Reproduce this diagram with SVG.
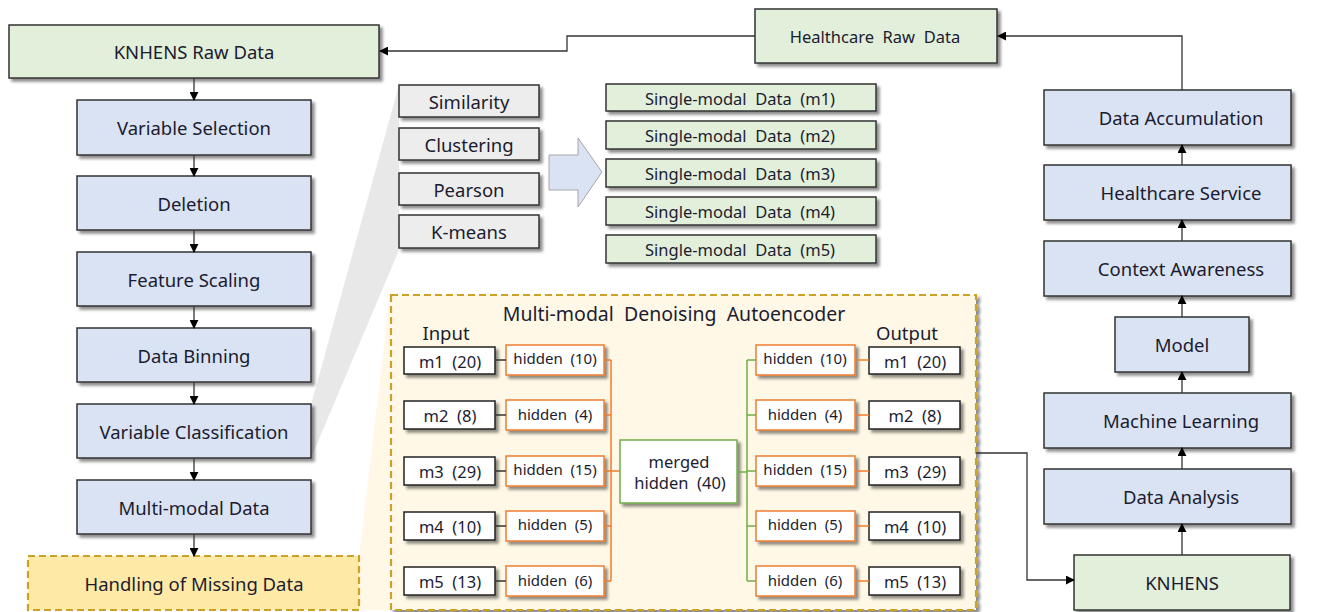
<svg xmlns="http://www.w3.org/2000/svg" width="1329" height="612" viewBox="0 0 1329 612">
  <defs>
    <filter id="shadow" x="-10%" y="-20%" width="130%" height="160%">
      <feGaussianBlur in="SourceAlpha" stdDeviation="1.5"/>
      <feOffset dx="2.5" dy="2.5" result="b"/>
      <feComponentTransfer><feFuncA type="linear" slope="0.45"/></feComponentTransfer>
      <feMerge><feMergeNode/><feMergeNode in="SourceGraphic"/></feMerge>
    </filter>
    <marker id="arr" viewBox="0 0 10 10" refX="9" refY="5" markerWidth="9" markerHeight="9" markerUnits="userSpaceOnUse" orient="auto">
      <path d="M0,0 L10,5 L0,10 z" fill="#000"/>
    </marker>
    <style>
      text { font-family: "Noto Sans", "Open Sans", sans-serif; fill: #1c1c30; text-anchor: middle; dominant-baseline: central; }
      .main { font-size: 18.5px; }
      .sm { font-size: 16.5px; }
      .xs { font-size: 15px; }
      .lbl { font-size: 18.5px; }
      .title { font-size: 19.5px; }
      .blue { fill: #DAE3F3; stroke: #333; stroke-width: 1.5; filter: url(#shadow); }
      .green { fill: #E2EFDA; stroke: #333; stroke-width: 1.5; filter: url(#shadow); }
      .grey { fill: #EDEDED; stroke: #333; stroke-width: 1.5; filter: url(#shadow); }
      .white { fill: #fff; stroke: #222; stroke-width: 1.5; filter: url(#shadow); }
      .orange { fill: #fff; stroke: #ED7D31; stroke-width: 1.5; filter: url(#shadow); }
      .merged { fill: #fff; stroke: #70AD47; stroke-width: 1.5; filter: url(#shadow); }
      .missing { fill: #FFE9A6; stroke: #C9A227; stroke-width: 2.2; stroke-dasharray: 7 4; }
      .dae { fill: #FFF8E6; stroke: #C9A227; stroke-width: 2.2; stroke-dasharray: 7 4; filter: url(#shadow); }
      .edge { fill: none; stroke: #333; stroke-width: 1.3; }
      .oedge { fill: none; stroke: #ED7D31; stroke-width: 1.5; }
      .gedge { fill: none; stroke: #70AD47; stroke-width: 1.5; }
    </style>
  </defs>

  <!-- callout wedges behind the boxes -->
  <polygon points="311,405 399,85 399,250 311,458" fill="#E8E8E8"/>
  <polygon points="359,557 390,295 390,610 359,610" fill="#FFF8E6"/>

  <!-- left pipeline -->
  <g id="knhens-raw"><rect class="green" x="9" y="25" width="370" height="53"/><text class="main" x="194" y="51">KNHENS Raw Data</text></g>
  <g id="variable-selection"><rect class="blue" x="77" y="100" width="234" height="55"/><text class="main" x="194" y="127">Variable Selection</text></g>
  <g id="deletion"><rect class="blue" x="77" y="176" width="234" height="54"/><text class="main" x="194" y="203">Deletion</text></g>
  <g id="feature-scaling"><rect class="blue" x="77" y="252" width="234" height="54"/><text class="main" x="194" y="279">Feature Scaling</text></g>
  <g id="data-binning"><rect class="blue" x="77" y="328" width="234" height="54"/><text class="main" x="194" y="355">Data Binning</text></g>
  <g id="variable-classification"><rect class="blue" x="77" y="404" width="234" height="54"/><text class="main" x="194" y="431">Variable Classification</text></g>
  <g id="multimodal-data"><rect class="blue" x="77" y="480" width="234" height="54"/><text class="main" x="194" y="507">Multi-modal Data</text></g>
  <g id="missing-data"><rect class="missing" x="28" y="556" width="331" height="54"/><text class="main" x="194" y="583">Handling of Missing Data</text></g>

  <!-- classification methods -->
  <g id="similarity"><rect class="grey" x="399" y="85" width="140" height="32"/><text class="main" x="469" y="101">Similarity</text></g>
  <g id="clustering"><rect class="grey" x="399" y="128" width="140" height="32"/><text class="main" x="469" y="144">Clustering</text></g>
  <g id="pearson"><rect class="grey" x="399" y="173" width="140" height="32"/><text class="main" x="469" y="189">Pearson</text></g>
  <g id="kmeans"><rect class="grey" x="399" y="215" width="140" height="33"/><text class="main" x="469" y="231">K-means</text></g>

  <!-- block arrow -->
  <g id="block-arrow"><polygon points="549,155 578,155 578,138 602,172 578,207 578,190 549,190" fill="#DAE3F3" stroke="#A6A6A6" stroke-width="1"/></g>

  <!-- single-modal data -->
  <g id="single-m1"><rect class="green" x="606" y="84" width="270" height="27"/><text class="sm" x="740" y="98" xml:space="preserve">Single-modal  Data  (m1)</text></g>
  <g id="single-m2"><rect class="green" x="606" y="121" width="270" height="28"/><text class="sm" x="740" y="135" xml:space="preserve">Single-modal  Data  (m2)</text></g>
  <g id="single-m3"><rect class="green" x="606" y="159" width="270" height="28"/><text class="sm" x="740" y="173" xml:space="preserve">Single-modal  Data  (m3)</text></g>
  <g id="single-m4"><rect class="green" x="606" y="197" width="270" height="28"/><text class="sm" x="740" y="211" xml:space="preserve">Single-modal  Data  (m4)</text></g>
  <g id="single-m5"><rect class="green" x="606" y="235" width="270" height="28"/><text class="sm" x="740" y="249" xml:space="preserve">Single-modal  Data  (m5)</text></g>

  <!-- healthcare raw data -->
  <g id="healthcare-raw"><rect class="green" x="755" y="9" width="242" height="54"/><text class="sm" x="875" y="36" xml:space="preserve">Healthcare  Raw  Data</text></g>

  <!-- autoencoder -->
  <g id="autoencoder">
    <rect class="dae" x="391" y="295" width="585" height="315"/>
    <text class="title" x="674" y="313" xml:space="preserve">Multi-modal  Denoising  Autoencoder</text>
    <text class="lbl" x="446" y="332">Input</text>
    <text class="lbl" x="907" y="332">Output</text>
  </g>
  <g id="in-m1"><rect class="white" x="404" y="347" width="91" height="27"/><text class="sm" x="450" y="361" xml:space="preserve">m1  (20)</text></g>
  <g id="in-m2"><rect class="white" x="404" y="401" width="91" height="28"/><text class="sm" x="450" y="415" xml:space="preserve">m2  (8)</text></g>
  <g id="in-m3"><rect class="white" x="404" y="457" width="91" height="28"/><text class="sm" x="450" y="471" xml:space="preserve">m3  (29)</text></g>
  <g id="in-m4"><rect class="white" x="404" y="512" width="91" height="28"/><text class="sm" x="450" y="526" xml:space="preserve">m4  (10)</text></g>
  <g id="in-m5"><rect class="white" x="404" y="567" width="91" height="28"/><text class="sm" x="450" y="581" xml:space="preserve">m5  (13)</text></g>

  <g id="enc-h1"><rect class="orange" x="506" y="345" width="98" height="30"/><text class="xs" x="555" y="358" xml:space="preserve">hidden  (10)</text></g>
  <g id="enc-h2"><rect class="orange" x="506" y="400" width="98" height="30"/><text class="xs" x="555" y="414" xml:space="preserve">hidden  (4)</text></g>
  <g id="enc-h3"><rect class="orange" x="506" y="456" width="98" height="30"/><text class="xs" x="555" y="469" xml:space="preserve">hidden  (15)</text></g>
  <g id="enc-h4"><rect class="orange" x="506" y="511" width="98" height="30"/><text class="xs" x="555" y="524" xml:space="preserve">hidden  (5)</text></g>
  <g id="enc-h5"><rect class="orange" x="506" y="566" width="98" height="30"/><text class="xs" x="555" y="580" xml:space="preserve">hidden  (6)</text></g>

  <g id="merged"><rect class="merged" x="620" y="440" width="117" height="63"/><text class="sm" x="679" y="461">merged</text><text class="sm" x="680" y="482" xml:space="preserve">hidden  (40)</text></g>

  <g id="dec-h1"><rect class="orange" x="756" y="345" width="99" height="30"/><text class="xs" x="805" y="358" xml:space="preserve">hidden  (10)</text></g>
  <g id="dec-h2"><rect class="orange" x="756" y="400" width="99" height="30"/><text class="xs" x="805" y="414" xml:space="preserve">hidden  (4)</text></g>
  <g id="dec-h3"><rect class="orange" x="756" y="456" width="99" height="30"/><text class="xs" x="805" y="469" xml:space="preserve">hidden  (15)</text></g>
  <g id="dec-h4"><rect class="orange" x="756" y="511" width="99" height="30"/><text class="xs" x="805" y="524" xml:space="preserve">hidden  (5)</text></g>
  <g id="dec-h5"><rect class="orange" x="756" y="566" width="99" height="30"/><text class="xs" x="805" y="580" xml:space="preserve">hidden  (6)</text></g>

  <g id="out-m1"><rect class="white" x="869" y="347" width="91" height="27"/><text class="sm" x="915" y="361" xml:space="preserve">m1  (20)</text></g>
  <g id="out-m2"><rect class="white" x="869" y="401" width="91" height="28"/><text class="sm" x="915" y="415" xml:space="preserve">m2  (8)</text></g>
  <g id="out-m3"><rect class="white" x="869" y="457" width="91" height="28"/><text class="sm" x="915" y="471" xml:space="preserve">m3  (29)</text></g>
  <g id="out-m4"><rect class="white" x="869" y="512" width="91" height="28"/><text class="sm" x="915" y="526" xml:space="preserve">m4  (10)</text></g>
  <g id="out-m5"><rect class="white" x="869" y="567" width="91" height="28"/><text class="sm" x="915" y="581" xml:space="preserve">m5  (13)</text></g>

  <!-- right pipeline -->
  <g id="data-accumulation"><rect class="blue" x="1044" y="90" width="247" height="55"/><text class="main" x="1181" y="117">Data Accumulation</text></g>
  <g id="healthcare-service"><rect class="blue" x="1044" y="165" width="247" height="55"/><text class="main" x="1181" y="192">Healthcare Service</text></g>
  <g id="context-awareness"><rect class="blue" x="1044" y="241" width="247" height="55"/><text class="main" x="1181" y="268">Context Awareness</text></g>
  <g id="model"><rect class="blue" x="1115" y="317" width="134" height="55"/><text class="main" x="1182" y="344">Model</text></g>
  <g id="machine-learning"><rect class="blue" x="1044" y="393" width="247" height="55"/><text class="main" x="1181" y="420">Machine Learning</text></g>
  <g id="data-analysis"><rect class="blue" x="1044" y="469" width="247" height="55"/><text class="main" x="1181" y="496">Data Analysis</text></g>
  <g id="knhens"><rect class="green" x="1074" y="555" width="216" height="55"/><text class="main" x="1182" y="582">KNHENS</text></g>

  <!-- connectors -->
  <g id="connectors">
    <path class="edge" marker-end="url(#arr)" d="M194,78 V100"/>
    <path class="edge" marker-end="url(#arr)" d="M194,155 V176"/>
    <path class="edge" marker-end="url(#arr)" d="M194,230 V252"/>
    <path class="edge" marker-end="url(#arr)" d="M194,306 V328"/>
    <path class="edge" marker-end="url(#arr)" d="M194,382 V404"/>
    <path class="edge" marker-end="url(#arr)" d="M194,458 V480"/>
    <path class="edge" marker-end="url(#arr)" d="M194,534 V556"/>

    <path class="edge" marker-end="url(#arr)" d="M755,36 H567 V51 H380"/>
    <path class="edge" marker-end="url(#arr)" d="M1182,90 V36 H998"/>

    <path class="edge" marker-end="url(#arr)" d="M1182,165 V145"/>
    <path class="edge" marker-end="url(#arr)" d="M1182,241 V220"/>
    <path class="edge" marker-end="url(#arr)" d="M1182,317 V296"/>
    <path class="edge" marker-end="url(#arr)" d="M1182,393 V372"/>
    <path class="edge" marker-end="url(#arr)" d="M1182,469 V448"/>
    <path class="edge" marker-end="url(#arr)" d="M1182,555 V524"/>

    <path class="edge" marker-end="url(#arr)" d="M976,453 H1027 V580 H1074"/>

    <!-- input to encoder hidden -->
    <path class="edge" d="M495,360 H506 M495,415 H506 M495,471 H506 M495,526 H506 M495,581 H506"/>
    <!-- encoder bus -->
    <path class="oedge" d="M604,360 H611 M604,415 H611 M604,471 H620 M604,526 H611 M604,581 H611 M611,360 V581"/>
    <!-- decoder bus -->
    <path class="gedge" d="M737,472 H747 M747,360 V581 M747,360 H756 M747,415 H756 M747,471 H756 M747,526 H756 M747,581 H756"/>
    <!-- decoder hidden to output -->
    <path class="oedge" d="M855,360 H869 M855,415 H869 M855,471 H869 M855,526 H869 M855,581 H869"/>
  </g>
</svg>
